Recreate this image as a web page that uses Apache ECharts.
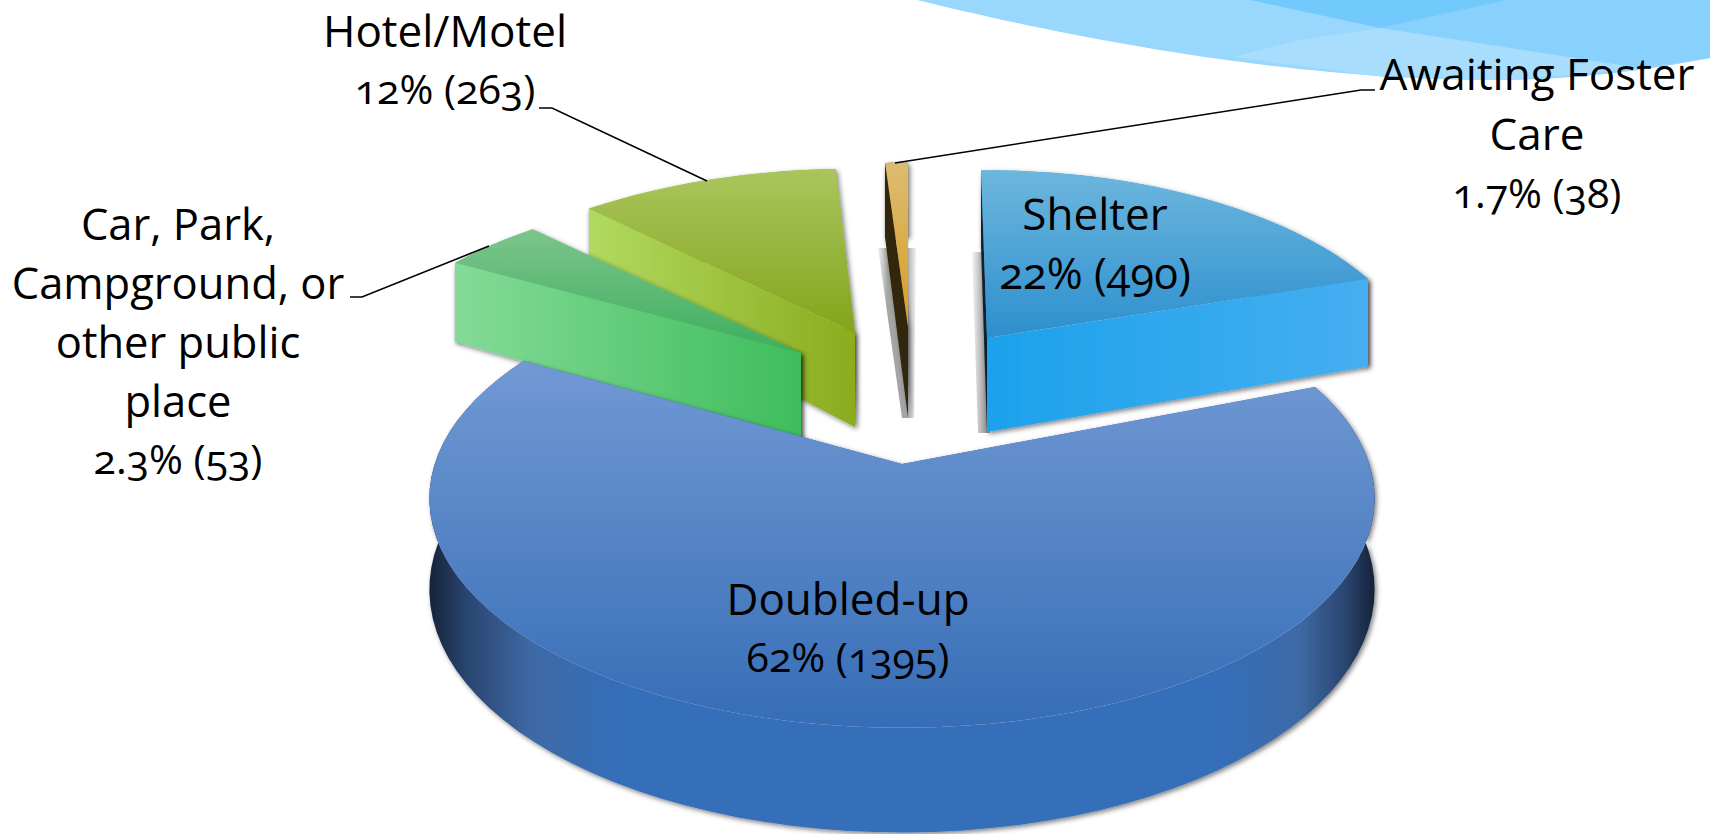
<!DOCTYPE html>
<html>
<head>
<meta charset="utf-8">
<title>Nighttime residence</title>
<style>
  html, body { margin: 0; padding: 0; background: #fff; }
  #chart { width: 1710px; height: 834px; }
  #chart text { font-variant-numeric: oldstyle-nums !important; font-feature-settings: "onum" 1 !important; }
</style>
<script src="https://cdn.jsdelivr.net/npm/echarts@6/dist/echarts.min.js"></script>
</head>
<body>
<div id="chart"></div>
<script>
// clockwise round the pie, starting at the right hand edge of Doubled-up
const categories = ['Doubled-up', 'Car, Park, Campground, or other public place', 'Hotel/Motel', 'Awaiting Foster Care', 'Shelter']
const counts = [1395, 53, 263, 38, 490]
const percents = ['62%', '2.3%', '12%', '1.7%', '22%']

const total = counts.reduce((a, b) => a + b, 0)
const FONT = '"Open Sans", "Noto Sans", sans-serif'

// look of each slice, same order as categories
// spread and turn (degrees) copy the way the 3D view of the original bends the wedges
const sliceStyles = [
  { apex: [902, 464], sx: 0.99, sy: 1, persp: 0.15, flat: 0.475, spread: 1.029, turn: 0, depth: 89, top: [362, 728, '#7199d4', '#366db6'],
    wall: [429, 1374, [[0, '#16233a'], [0.04, '#2a4570'], [0.11, '#3e6aa6'], [0.2, '#356eb9'], [0.84, '#356eb9'], [0.92, '#3e6aa6'], [0.97, '#2a4570'], [1, '#16233a']]] },
  { apex: [801, 353], sx: 0.94, sy: 0.98, spread: 1.82, turn: 7.2, depth: 88, startFront: true, top: [228, 353, '#7dc58c', '#3dae5e'],
    wall: [452, 801, [[0, '#84db98'], [1, '#3fbd5c']]] },
  { apex: [855, 333], sx: 0.94, sy: 0.98, spread: 0.97, turn: 10.5, depth: 94, startFront: true, top: [168, 333, '#a9c65e', '#84a41b'],
    wall: [588, 857, [[0, '#b1da60'], [1, '#8aac1e']]] },
  { apex: [908, 327], sx: 1, sy: 0.98, spread: 0.56, turn: 8.15, depth: 91, startFront: true, top: [164, 327, '#dcbc72', '#d89e22'],
    wall: [885, 908, [[0, '#33250c'], [1, '#33250c']]] },
  { apex: [987, 338], sx: 0.907, sy: 1, spread: 0.926, turn: 2.9, depth: 94, top: [172, 338, '#6cb6dd', '#2d8fce'],
    wall: [988, 1368, [[0, '#1ca2ec'], [1, '#46aef1']]], startWall: '#0c2232' }
]
const drawOrder = [3, 4, 2, 1, 0]

// text lines: x centre, baseline y, font size
const labelLines = [
  ['Hotel/Motel', 445, 45, 44], [percents[2] + ' (' + counts[2] + ')', 445, 103, 41],
  ['Car, Park,', 178, 238, 43.5], ['Campground, or', 178, 297, 43.5], ['other public', 178, 356, 43.5], ['place', 178, 415, 43.5],
  [percents[1] + ' (' + counts[1] + ')', 178, 473, 41],
  ['Awaiting Foster', 1537, 88, 44], ['Care', 1537, 148, 44], [percents[3] + ' (' + counts[3] + ')', 1537, 207, 41],
  ['Shelter', 1095, 228, 44], [percents[4] + ' (' + counts[4] + ')', 1095, 287, 43.5],
  ['Doubled-up', 848, 613, 44], [percents[0] + ' (' + counts[0] + ')', 848, 671, 41]
]
const leaderLines = [
  [[539, 108], [552, 108], [707, 181]],
  [[350, 297], [362, 297], [489, 246]],
  [[1375, 90], [1361, 90], [895, 163]]
]

const PERSPECTIVE = 0.222
const FLATTEN = 0.434

function linear (x0, y0, x1, y1, stops) {
  return new echarts.graphic.LinearGradient(x0, y0, x1, y1, stops, true)
}

function renderSlice (params, api) {
  const i = api.value(2)
  const s = sliceStyles[i]
  const first = api.value(0)
  const last = api.value(1)
  const mid = (first + last) / 2
  const start = mid + (first - mid) * s.spread + s.turn / 360 * total
  const end = mid + (last - mid) * s.spread + s.turn / 360 * total
  const persp = s.persp || PERSPECTIVE
  const flat = s.flat || FLATTEN

  // polar axis gives the flat circle, then tip it over and move to the exploded spot
  function project (angle, r, down) {
    const c = api.coord([0, angle])
    const p = api.coord([r, angle])
    const R = api.coord([1, 0])
    const radius = Math.hypot(R[0] - c[0], R[1] - c[1])
    const X = (p[0] - c[0]) / radius
    const Y = (c[1] - p[1]) / radius
    const w = 1 / (1 + persp * Y)
    return [
      s.apex[0] + radius * X * w * s.sx,
      s.apex[1] - radius * flat * Y * w * s.sy + down * s.depth * w
    ]
  }

  const steps = Math.max(4, Math.ceil((end - start) / total * 120))
  const topArc = []
  const lowArc = []
  for (let k = 0; k <= steps; k++) {
    const a = start + (end - start) * k / steps
    topArc.push(project(a, 1, 0))
    lowArc.push(project(a, 1, 1))
  }
  const apexTop = project(start, 0, 0)
  const apexLow = project(start, 0, 1)
  const wallFill = linear(s.wall[0], 0, s.wall[1], 0, s.wall[2])
  const shadow = { shadowBlur: 5, shadowColor: 'rgba(0,0,0,0.5)', shadowOffsetX: 2, shadowOffsetY: 2 }

  const poly = (points, fill, extra) => ({
    type: 'polygon',
    shape: { points: points },
    style: Object.assign({ fill: fill }, extra || {}),
    silent: true
  })

  const startCut = poly([topArc[0], apexTop, apexLow, lowArc[0]], s.startWall || wallFill, shadow)
  const endCut = poly([topArc[steps], apexTop, apexLow, lowArc[steps]], wallFill, shadow)

  return {
    type: 'group',
    children: [
      poly(topArc.concat(lowArc.slice().reverse()), wallFill, shadow),
      s.startFront ? endCut : startCut,
      s.startFront ? startCut : endCut,
      poly(topArc.concat([apexTop]), linear(0, s.top[0], 0, s.top[1], [
        { offset: 0, color: s.top[2] }, { offset: 1, color: s.top[3] }
      ]))
    ]
  }
}

// angle span of each slice from the cumulated counts
let running = 0
const spans = counts.map((v, i) => {
  const row = [running, running + v, i]
  running += v
  return row
})

sliceStyles.forEach(s => {
  s.wall[2] = s.wall[2].map(d => ({ offset: d[0], color: d[1] }))
})

// curve of the slide's swoosh in the top right corner
function bezier (p0, p1, p2, p3, n) {
  const out = []
  for (let k = 0; k <= n; k++) {
    const t = k / n
    const u = 1 - t
    out.push([0, 1].map(d => u * u * u * p0[d] + 3 * u * u * t * p1[d] + 3 * u * t * t * p2[d] + t * t * t * p3[d]))
  }
  return out
}
const swoosh = bezier([917, 0], [1100, 45], [1300, 78], [1480, 80], 40)
  .concat(bezier([1480, 80], [1570, 81], [1650, 70], [1710, 58], 20))
  .concat([[1710, 0]])

const chart = echarts.init(document.getElementById('chart'), null, { renderer: 'svg' })

const bgElements = [
  { type: 'polygon', z: -3, shape: { points: swoosh }, style: { fill: '#99d7fd' } },
  { type: 'polygon', z: -2, shape: { points: [[1380, 28], [1507, 0], [1710, 0], [1710, 58], [1640, 68]] }, style: { fill: '#88d1fc' } },
  { type: 'polygon', z: -2, shape: { points: [[1250, 0], [1380, 28], [1507, 0]] }, style: { fill: '#72c9fb' } },
  { type: 'polygon', z: -2, shape: { points: [[1233, 57], [1300, 40], [1380, 28], [1640, 68], [1570, 75], [1500, 80], [1383, 77]] }, style: { fill: '#a8ddfd' } },
  // soft shadows behind the two upright slices
  { type: 'polygon', z: -1, shape: { points: [[878, 248], [916, 248], [914, 418], [902, 418]] }, style: { fill: linear(878, 0, 916, 0, [{ offset: 0, color: '#f2f2f2' }, { offset: 0.25, color: '#a5a5a5' }, { offset: 0.75, color: '#a5a5a5' }, { offset: 1, color: '#f2f2f2' }]) } },
  { type: 'polygon', z: -1, shape: { points: [[972, 252], [990, 252], [990, 433], [978, 433]] }, style: { fill: linear(972, 0, 986, 0, [{ offset: 0, color: '#f4f4f4' }, { offset: 1, color: '#999' }]) } }
]

const leaderElements = leaderLines.map(points => ({
  type: 'polyline',
  z: 50,
  shape: { points: points },
  style: { stroke: '#000', lineWidth: 1.6, fill: null }
}))

const textElements = labelLines.map(l => ({
  type: 'text',
  z: 60,
  x: l[1],
  y: l[2] - 15,
  style: { text: l[0], fill: '#000', font: l[3] + 'px ' + FONT, align: 'center', verticalAlign: 'middle' }
}))

chart.setOption({
  backgroundColor: '#fff',
  animation: false,
  polar: { center: [902, 464], radius: 472 },
  angleAxis: { type: 'value', min: 0, max: total, startAngle: 18, clockwise: true, show: false },
  radiusAxis: { type: 'value', min: 0, max: 1, show: false },
  graphic: { elements: bgElements.concat(leaderElements, textElements) },
  series: [
    {
      type: 'custom',
      coordinateSystem: 'polar',
      clip: false,
      silent: true,
      z: 10,
      data: drawOrder.map(i => ({ name: categories[i], value: spans[i] })),
      renderItem: renderSlice
    }
  ]
})
</script>
</body>
</html>
